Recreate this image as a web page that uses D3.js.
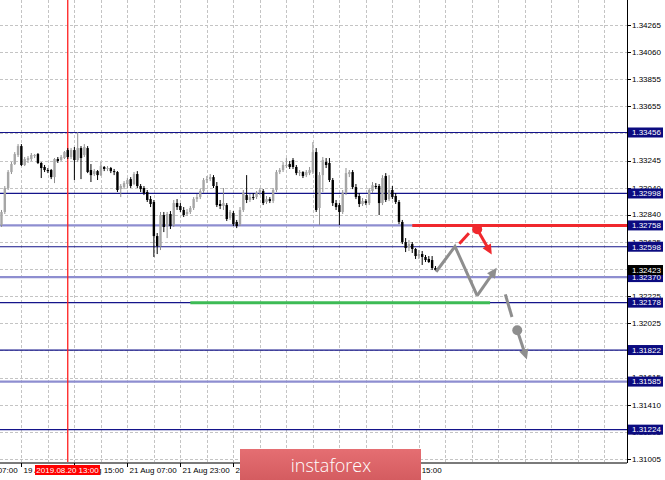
<!DOCTYPE html>
<html><head><meta charset="utf-8">
<script src="https://cdn.jsdelivr.net/npm/d3@7"></script>
<style>html,body{margin:0;padding:0;background:#fff;}svg{display:block;}</style>
</head><body>
<svg id="chart" width="665" height="480"></svg>
<script>
// ---- data (H1 candles) ----
const opens=[1.32761,1.32859,1.33039,1.33159,1.33219,1.33287,1.33354,1.33212,1.33249,1.33257,
1.33279,1.33294,1.33227,1.33197,1.33174,1.33174,1.33121,1.33257,1.33249,1.33264,
1.33324,1.33272,1.33324,1.33249,1.33339,1.33287,1.33339,1.33174,1.33144,1.33166,
1.33136,1.33197,1.33182,1.33189,1.33166,1.33159,1.33031,1.33046,1.33069,1.33106,
1.33069,1.33144,1.33054,1.33039,1.33009,1.32956,1.32934,1.32678,1.32603,1.32836,
1.32753,1.32844,1.32761,1.32926,1.32904,1.32874,1.32844,1.32859,1.32889,1.32956,
1.32971,1.33016,1.33099,1.33106,1.33121,1.33054,1.32919,1.32904,1.32911,1.32814,
1.32851,1.32784,1.32768,1.32874,1.32986,1.32949,1.32971,1.32971,1.33001,1.33016,
1.32934,1.32956,1.32941,1.33024,1.33159,1.33174,1.33204,1.33219,1.33249,1.33197,
1.33151,1.33159,1.33136,1.33151,1.33159,1.33309,1.32889,1.33136,1.33234,1.33227,
1.33099,1.32926,1.32911,1.32859,1.33001,1.33144,1.33159,1.33046,1.32979,1.32919,
1.32941,1.32926,1.33016,1.33054,1.33054,1.32926,1.33129,1.32956,1.33024,1.32979,
1.32934,1.32784,1.32633,1.32588,1.32618,1.32581,1.32528,1.32543,1.32521,1.32506,
1.32498,1.32438];
const closes=[1.32859,1.33039,1.33159,1.33219,1.33294,1.33354,1.33212,1.33257,1.33264,1.33287,
1.33287,1.33227,1.33189,1.33174,1.33166,1.33121,1.33257,1.33242,1.33272,1.33309,
1.33272,1.33324,1.33249,1.33339,1.33264,1.33347,1.33159,1.33136,1.33166,1.33136,
1.33204,1.33182,1.33189,1.33166,1.33159,1.33024,1.33054,1.33076,1.33099,1.33054,
1.33144,1.33054,1.33031,1.33001,1.32949,1.32919,1.32678,1.32603,1.32836,1.32746,
1.32844,1.32753,1.32926,1.32896,1.32874,1.32836,1.32859,1.32889,1.32956,1.32971,
1.33016,1.33099,1.33106,1.33121,1.33054,1.32911,1.32904,1.32926,1.32806,1.32859,
1.32768,1.32753,1.32874,1.33001,1.32949,1.32971,1.32964,1.33001,1.33024,1.32926,
1.32956,1.32941,1.33024,1.33159,1.33174,1.33212,1.33212,1.33197,1.33197,1.33151,
1.33159,1.33129,1.33159,1.33174,1.33309,1.32874,1.33136,1.33249,1.33212,1.33099,
1.32926,1.32896,1.32859,1.33001,1.33151,1.33159,1.33046,1.32971,1.32919,1.32941,
1.32926,1.33024,1.33061,1.33046,1.32926,1.33114,1.32949,1.33024,1.32971,1.32934,
1.32784,1.32633,1.32588,1.32618,1.32581,1.32528,1.32543,1.32521,1.32498,1.32483,
1.32438,1.32423];
const highs=[1.32874,1.33054,1.33174,1.33234,1.33309,1.33369,1.33369,1.33272,1.33279,1.33302,
1.33294,1.33302,1.33234,1.33212,1.33189,1.33182,1.33264,1.33272,1.33287,1.33317,
1.33339,1.33339,1.33347,1.33459,1.33354,1.33369,1.33354,1.33219,1.33182,1.33174,
1.33234,1.33204,1.33204,1.33197,1.33182,1.33166,1.33069,1.33091,1.33114,1.33121,
1.33159,1.33166,1.33069,1.33054,1.33024,1.32979,1.32949,1.32701,1.32859,1.32859,
1.32859,1.32866,1.32949,1.32956,1.32926,1.32896,1.32881,1.32904,1.32971,1.32994,
1.33031,1.33114,1.33129,1.33144,1.33136,1.33084,1.32949,1.33039,1.32926,1.32874,
1.32866,1.32799,1.32896,1.33024,1.33136,1.32994,1.33001,1.33016,1.33039,1.33031,
1.32979,1.32971,1.33039,1.33174,1.33189,1.33234,1.33264,1.33242,1.33264,1.33212,
1.33174,1.33166,1.33174,1.33197,1.33384,1.33339,1.33159,1.33272,1.33264,1.33264,
1.33114,1.32949,1.32926,1.33024,1.33189,1.33174,1.33174,1.33069,1.33001,1.32964,
1.32956,1.33039,1.33084,1.33076,1.33069,1.33136,1.33151,1.33136,1.33054,1.33001,
1.32949,1.32799,1.32663,1.32648,1.32633,1.32588,1.32573,1.32566,1.32536,1.32528,
1.32528,1.32453];
const lows=[1.32746,1.32844,1.33024,1.33144,1.33212,1.33272,1.33204,1.33204,1.33227,1.33242,
1.33264,1.33219,1.33114,1.33159,1.33151,1.33106,1.33076,1.33227,1.33242,1.33257,
1.33257,1.33257,1.33099,1.33234,1.33106,1.33272,1.33151,1.33084,1.33129,1.33099,
1.33129,1.33166,1.33166,1.33151,1.33136,1.33009,1.32971,1.33031,1.33039,1.33039,
1.33061,1.33039,1.33009,1.32986,1.32934,1.32896,1.32521,1.32543,1.32573,1.32708,
1.32663,1.32731,1.32746,1.32874,1.32859,1.32821,1.32829,1.32844,1.32874,1.32934,
1.32956,1.33001,1.33076,1.33091,1.33039,1.32896,1.32881,1.32874,1.32791,1.32799,
1.32753,1.32738,1.32753,1.32859,1.32926,1.32934,1.32949,1.32956,1.32986,1.32911,
1.32919,1.32926,1.32926,1.33009,1.33144,1.33159,1.33189,1.33182,1.33182,1.33136,
1.33129,1.33114,1.33121,1.33136,1.33144,1.32859,1.32761,1.33009,1.33189,1.33084,
1.32904,1.32874,1.32761,1.32844,1.32986,1.33121,1.33031,1.32956,1.32896,1.32904,
1.32911,1.32911,1.33001,1.33031,1.32836,1.32911,1.32934,1.32941,1.32956,1.32919,
1.32768,1.32618,1.32558,1.32566,1.32551,1.32506,1.32506,1.32461,1.32483,1.32476,
1.32423,1.32415];

const priceTicks=[1.34265,1.34060,1.33855,1.33655,1.33450,1.33245,1.33040,1.32840,1.32635,1.32430,1.32225,1.32025,1.31820,1.31615,1.31410,1.31205,1.31005];
const timeTickIndex=[-10,6,22,38,54,70,86,102,118];
const timeTickLabels=["19 Aug 07:00","19 Aug 23:00","20 Aug 15:00","21 Aug 07:00","21 Aug 23:00","22 Aug 15:00","23 Aug 07:00","23 Aug 23:00","26 Aug 15:00"];
const levelPrices=[1.33456,1.32998,1.32758,1.32598,1.32370,1.32178,1.31822,1.31585,1.31224];
const levelKinds=["dark","dark","light","dark","light","dark","dark","light","dark"];
const currentPrice=1.32423;
const markerIndex=20, markerLabel="2019.08.20 13:00";
const redLevel=1.32758, redLevelFrom=124;
const greenLevel=1.32178, greenFrom=57, greenTo=147.5;
// forecast sketch (bar index, price)
const zigzagIdx=[131.2,136.9,143.6,149.5], zigzagPx=[1.3241,1.3260,1.3223,1.3244];
const redDashIdx=[138.2,141.1], redDashPx=[1.3262,1.3270];
const redArrowIdx=[143.6,148.0], redArrowPx=[1.3273,1.3254];
const grayDashIdx=[152.1,154.1], grayDashPx=[1.3224,1.3207];
const grayArrowIdx=[155.7,158.6], grayArrowPx=[1.3197,1.3175];

// ---- layout ----
const W=665,H=480, plotR=627, plotB=463;
const logoBox={x:240,y:449,w:181,h:31};
const x=d3.scaleLinear().domain([0,131]).range([1.5,1.5+131*3.3125]);
const y=d3.scaleLinear().domain([1.31005,1.34265]).range([458.8,24.8]);
const svg=d3.select("#chart");
const FONT="'Liberation Sans', Arial, sans-serif";
svg.append("rect").attr("width",W).attr("height",H).attr("fill","#fff");
svg.append("clipPath").attr("id","pc").append("rect").attr("x",0).attr("y",0).attr("width",plotR).attr("height",plotB);
const plot=svg.append("g").attr("clip-path","url(#pc)");

// grid
const gridIdx=d3.range(-2,200,8).filter(i=>x(i)<plotR-1);
plot.selectAll(".vg").data(gridIdx).enter().append("line")
 .attr("x1",i=>Math.round(x(i))+0.5).attr("x2",i=>Math.round(x(i))+0.5)
 .attr("y1",0).attr("y2",plotB).attr("stroke","#c4c4c4").attr("stroke-dasharray","3,2");
plot.selectAll(".hg").data(priceTicks).enter().append("line")
 .attr("x1",0).attr("x2",plotR)
 .attr("y1",p=>Math.round(y(p))+0.5).attr("y2",p=>Math.round(y(p))+0.5)
 .attr("stroke","#c4c4c4").attr("stroke-dasharray","3,2");

// level lines
plot.selectAll(".lv").data(levelPrices).enter().append("line")
 .attr("x1",0).attr("x2",plotR)
 .attr("y1",p=>y(p)).attr("y2",p=>y(p))
 .attr("stroke",(p,i)=>levelKinds[i]==="dark"?"#14148a":"#8e8ed0")
 .attr("stroke-width",(p,i)=>levelKinds[i]==="dark"?1.2:2.2);

// red vertical marker
plot.append("line").attr("x1",x(markerIndex)).attr("x2",x(markerIndex)).attr("y1",0).attr("y2",plotB)
 .attr("stroke","#ff1f1f").attr("stroke-width",1.3);

// red & green horizontal target lines
plot.append("line").attr("x1",x(redLevelFrom)).attr("x2",plotR).attr("y1",y(redLevel)).attr("y2",y(redLevel))
 .attr("stroke","#f0282d").attr("stroke-width",3);
plot.append("line").attr("x1",x(greenFrom)).attr("x2",x(greenTo)).attr("y1",y(greenLevel)).attr("y2",y(greenLevel))
 .attr("stroke","#3dbb55").attr("stroke-width",3);

// candles
const idx=d3.range(opens.length);
const cg=plot.append("g");
cg.selectAll(".wk").data(idx).enter().append("line")
 .attr("x1",i=>x(i)).attr("x2",i=>x(i)).attr("y1",i=>y(highs[i])).attr("y2",i=>y(lows[i]))
 .attr("stroke",i=>closes[i]>=opens[i]?"#8f8f8f":"#000").attr("stroke-width",1);
cg.selectAll(".bd").data(idx).enter().append("rect")
 .attr("x",i=>x(i)-1.2).attr("width",2.4)
 .attr("y",i=>y(Math.max(opens[i],closes[i])))
 .attr("height",i=>Math.max(1,Math.abs(y(opens[i])-y(closes[i]))))
 .attr("fill",i=>closes[i]>=opens[i]?"#a6a6a6":"#000");

// forecast sketch
const GRAY="#8e8e8e", RED="#f0282d";
function arrow(g,x1,y1,x2,y2,color){
  const dx=x2-x1, dy=y2-y1, L=Math.hypot(dx,dy), ux=dx/L, uy=dy/L, hl=10, hw=4.8;
  const bx=x2-ux*hl, by=y2-uy*hl;
  g.append("line").attr("x1",x1).attr("y1",y1).attr("x2",bx+ux*1).attr("y2",by+uy*1)
   .attr("stroke",color).attr("stroke-width",3);
  g.append("path").attr("d",`M${x2},${y2}L${bx-uy*hw},${by+ux*hw}L${bx+uy*hw},${by-ux*hw}Z`).attr("fill",color);
}
const fg=plot.append("g");
const zz=zigzagIdx.map((v,i)=>[x(v),y(zigzagPx[i])]);
fg.append("path").attr("d",d3.line()(zz.slice(0,3))).attr("fill","none").attr("stroke",GRAY)
 .attr("stroke-width",3).attr("stroke-linejoin","miter");
arrow(fg,zz[2][0],zz[2][1],zz[3][0],zz[3][1],GRAY);
fg.append("line").attr("x1",x(redDashIdx[0])).attr("y1",y(redDashPx[0])).attr("x2",x(redDashIdx[1])).attr("y2",y(redDashPx[1]))
 .attr("stroke",RED).attr("stroke-width",3);
arrow(fg,x(redArrowIdx[0]),y(redArrowPx[0]),x(redArrowIdx[1]),y(redArrowPx[1]),RED);
fg.append("circle").attr("cx",x(redArrowIdx[0])).attr("cy",y(redArrowPx[0])).attr("r",5).attr("fill",RED);
fg.append("line").attr("x1",x(grayDashIdx[0])).attr("y1",y(grayDashPx[0])).attr("x2",x(grayDashIdx[1])).attr("y2",y(grayDashPx[1]))
 .attr("stroke",GRAY).attr("stroke-width",3);
arrow(fg,x(grayArrowIdx[0]),y(grayArrowPx[0]),x(grayArrowIdx[1]),y(grayArrowPx[1]),GRAY);
fg.append("circle").attr("cx",x(grayArrowIdx[0])).attr("cy",y(grayArrowPx[0])).attr("r",5).attr("fill",GRAY);

// axes frame
svg.append("line").attr("x1",0).attr("x2",plotR).attr("y1",plotB).attr("y2",plotB).attr("stroke","#7a7a7a").attr("stroke-width",2);
svg.append("line").attr("x1",plotR+0.5).attr("x2",plotR+0.5).attr("y1",0).attr("y2",plotB).attr("stroke","#000");

// right axis ticks & labels
const fmt=d3.format(".5f");
const ra=svg.append("g");
ra.selectAll(".rt").data(priceTicks).enter().append("line")
 .attr("x1",plotR).attr("x2",plotR+4).attr("y1",p=>Math.round(y(p))+0.5).attr("y2",p=>Math.round(y(p))+0.5).attr("stroke","#000");
ra.selectAll(".rl").data(priceTicks).enter().append("text")
 .attr("x",632).attr("y",p=>y(p)).attr("dy","0.35em").text(fmt)
 .attr("font-family",FONT).attr("font-size",8).attr("fill","#000");
// level labels
const lb=svg.append("g");
levelPrices.forEach(p=>{
  lb.append("rect").attr("x",628).attr("y",y(p)-5).attr("width",35).attr("height",10).attr("fill","#0b0b80");
  lb.append("text").attr("x",632).attr("y",y(p)).attr("dy","0.35em").text(fmt(p))
   .attr("font-family",FONT).attr("font-size",8).attr("fill","#fff");
});
lb.append("rect").attr("x",628).attr("y",y(currentPrice)-5).attr("width",35).attr("height",10).attr("fill","#000");
lb.append("text").attr("x",632).attr("y",y(currentPrice)).attr("dy","0.35em").text(fmt(currentPrice))
 .attr("font-family",FONT).attr("font-size",8).attr("fill","#fff");

// bottom time axis (labels lying entirely under the logo are not drawn: they are covered there)
const ba=svg.append("g");
timeTickIndex.forEach((ti,k)=>{
  const tx=Math.round(x(ti))+0.5;
  ba.append("line").attr("x1",tx).attr("x2",tx).attr("y1",plotB).attr("y2",plotB+4).attr("stroke","#000");
  if(tx>logoBox.x && tx+48<logoBox.x+logoBox.w) return;
  ba.append("text").attr("x",tx+2).attr("y",473).text(timeTickLabels[k])
   .attr("font-family",FONT).attr("font-size",8).attr("fill","#000");
});
// marker label
ba.append("rect").attr("x",35).attr("y",465).attr("width",65).attr("height",10).attr("fill","#ff0000");
ba.append("text").attr("x",67.5).attr("y",473).attr("text-anchor","middle").text(markerLabel)
 .attr("font-family",FONT).attr("font-size",8).attr("fill","#fff");

// logo
const defs=svg.append("defs");
const gr=defs.append("linearGradient").attr("id","lg").attr("x1",0).attr("y1",0).attr("x2",0).attr("y2",1);
gr.append("stop").attr("offset","0").attr("stop-color","#e56e72");
gr.append("stop").attr("offset","1").attr("stop-color","#d45c60");
svg.append("rect").attr("x",logoBox.x).attr("y",logoBox.y).attr("width",logoBox.w).attr("height",logoBox.h).attr("fill","url(#lg)");
svg.append("text").attr("x",331).attr("y",472).attr("text-anchor","middle").text("instaforex")
 .attr("font-family","'Open Sans', 'Noto Sans', sans-serif").attr("font-weight",300).attr("font-size",18).attr("fill","#fff");
</script>
</body></html>
